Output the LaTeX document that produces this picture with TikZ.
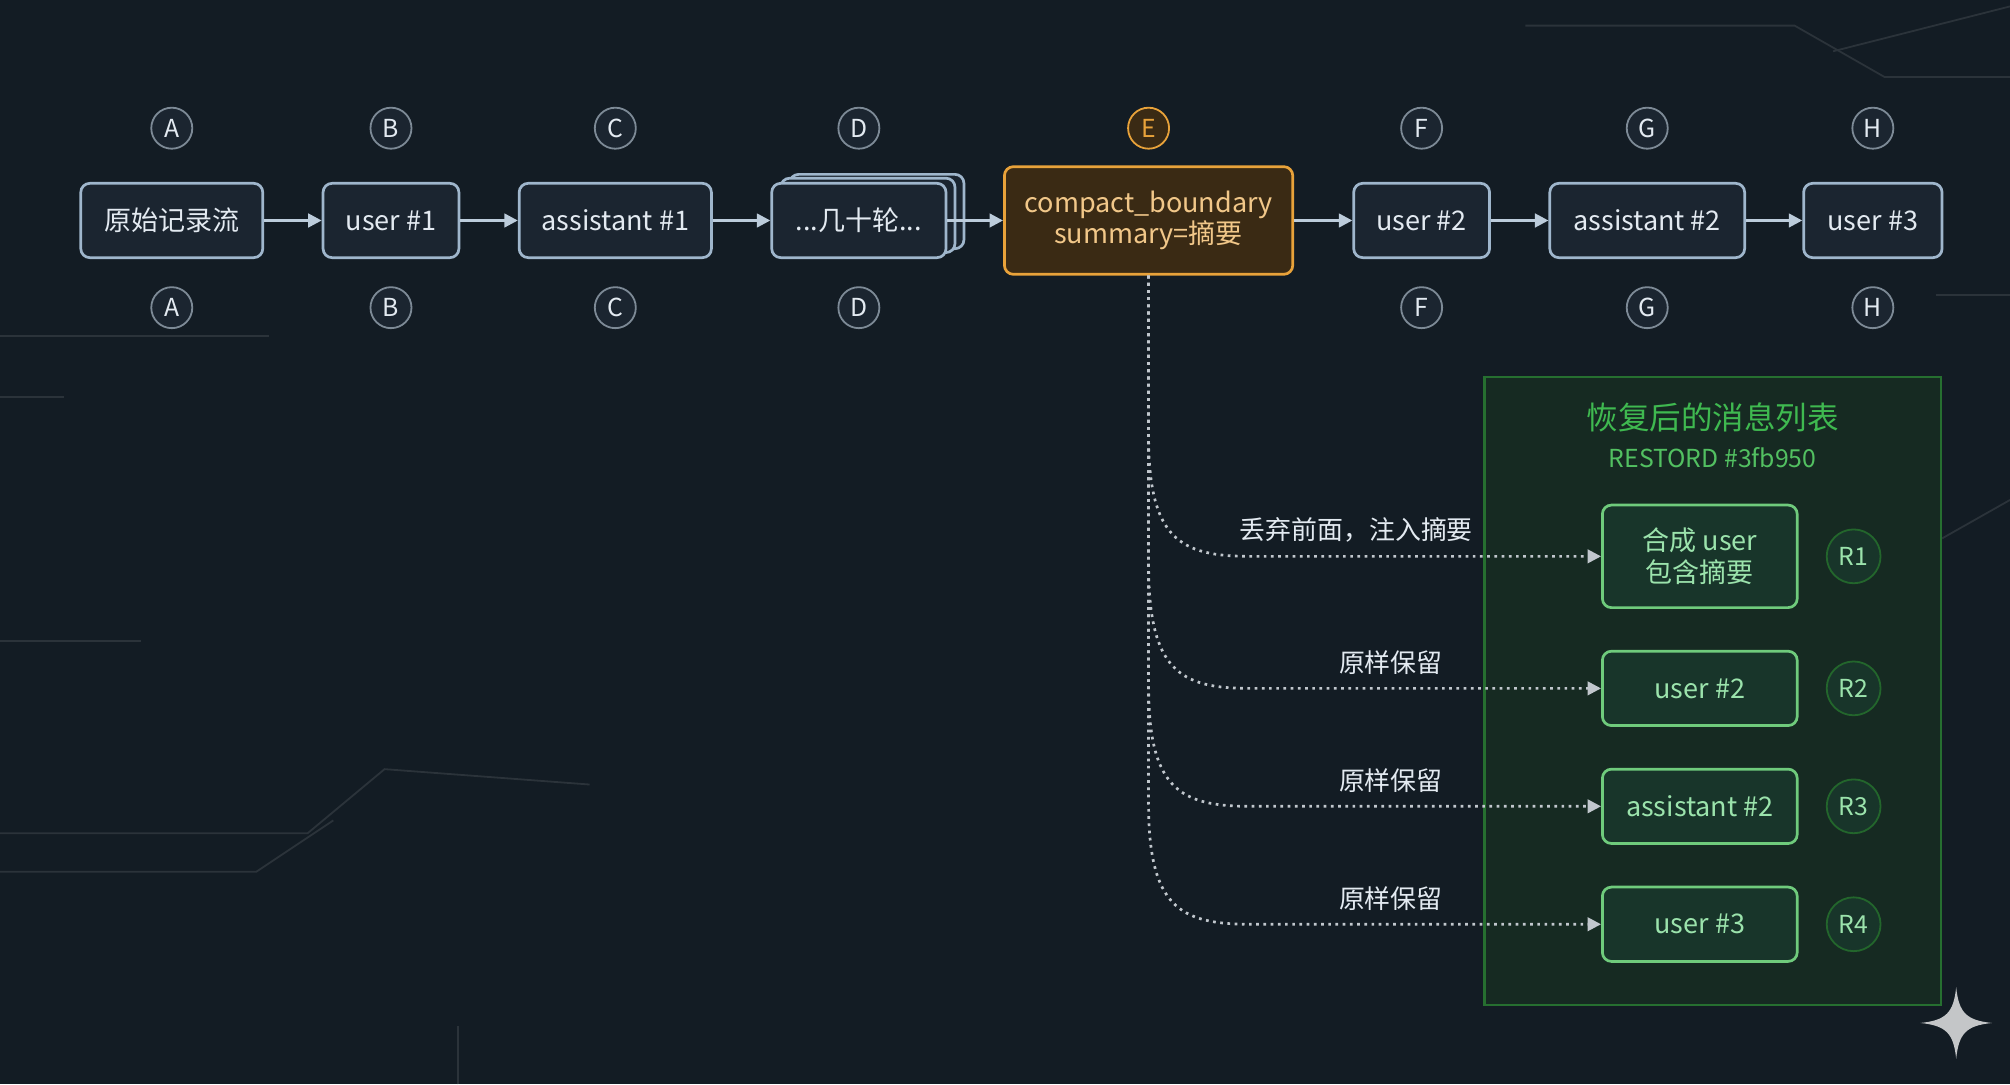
\documentclass[tikz,border=0pt]{standalone}
\usepackage{fontspec}
\setmainfont{Noto Sans CJK SC}
\usetikzlibrary{arrows.meta}
\definecolor{bg}{HTML}{131C24}
\definecolor{boxfill}{HTML}{1B2530}
\definecolor{boxline}{HTML}{9FB6CC}
\definecolor{txt}{HTML}{E3EAF1}
\definecolor{orange}{HTML}{E8A23A}
\definecolor{brown}{HTML}{3A2A14}
\definecolor{grn}{HTML}{3FB950}
\definecolor{grnfill}{HTML}{162A22}
\definecolor{grnbox}{HTML}{18352A}
\definecolor{grntxt}{HTML}{9BE3AC}
\definecolor{circ}{HTML}{7D8A96}
\tikzset{
  msg/.style={draw=boxline,line width=1.2pt,fill=boxfill,rounded corners=4pt,minimum height=1.16cm,text=txt,font=\fontsize{12}{14}\selectfont,align=center},
  lbl/.style={circle,draw=circ,line width=0.8pt,fill=boxfill,minimum size=0.64cm,inner sep=0pt,text=txt,font=\fontsize{11}{13}\selectfont},
  rmsg/.style={draw=grn!75!white,line width=1.2pt,fill=grnbox,rounded corners=4pt,minimum width=3.04cm,minimum height=1.16cm,text=grntxt,font=\fontsize{12}{14}\selectfont,align=center},
  rlbl/.style={circle,draw=grn!55!black,line width=0.8pt,fill=grnbox,minimum size=0.84cm,inner sep=0pt,text=grntxt,font=\fontsize{11}{13}\selectfont},
  flow/.style={-{Triangle[length=6pt,width=6pt]},line width=1.3pt,draw=boxline!70!white},
  dot/.style={-{Triangle[length=6pt,width=6pt]},line width=1.2pt,dotted,draw=txt!85!black},
  note/.style={text=txt,font=\fontsize{11.5}{13}\selectfont}
}
\begin{document}
\begin{tikzpicture}[x=0.02cm,y=-0.02cm]
\fill[bg] (0,0) rectangle (1568,846);
\useasboundingbox (0,0) rectangle (1568,846);
% faint circuit lines
\begin{scope}[draw=white!10!bg,line width=0.8pt]
\draw (0,650) -- (240,650) -- (300,600) -- (460,612);
\draw (0,680) -- (200,680) -- (260,640);
\draw (0,262) -- (210,262);
\draw (0,310) -- (50,310);
\draw (1190,20) -- (1400,20) -- (1470,60) -- (1568,60);
\draw (1430,40) -- (1568,5);
\draw (1510,230) -- (1568,230);
\draw (1515,420) -- (1568,390);
\draw (0,500) -- (110,500);
\draw (357,846) -- (357,800);
\end{scope}
% main flow
\node[msg,minimum width=2.84cm] (A) at (134,172) {原始记录流};
\node[msg,minimum width=2.12cm] (B) at (305,172) {user \#1};
\node[msg,minimum width=3.0cm] (C) at (480,172) {assistant \#1};
\node[msg,minimum width=2.72cm] at (684,165) {};
\node[msg,minimum width=2.72cm] at (677,168) {};
\node[msg,minimum width=2.72cm] (D) at (670,172) {...几十轮...};
\node[msg,draw=orange,fill=brown,text=orange!60!white,minimum width=4.5cm,minimum height=1.68cm] (E) at (896,172) {compact\_boundary\\summary=摘要};
\node[msg,minimum width=2.12cm] (F) at (1109,172) {user \#2};
\node[msg,minimum width=3.04cm] (G) at (1285,172) {assistant \#2};
\node[msg,minimum width=2.16cm] (H) at (1461,172) {user \#3};
\foreach \a/\b in {A/B,B/C,C/D,D/E,E/F,F/G,G/H} \draw[flow] (\a) -- (\b);
% letter circles
\foreach \n/\x in {A/134,B/305,C/480,D/670,F/1109,G/1285,H/1461}{
  \node[lbl] (t\n) at (\x,100) {\n};
  \node[lbl] (b\n) at (\x,240) {\n};
}
\node[lbl,draw=orange,fill=brown,text=orange] (tE) at (896,100) {E};
% restored panel
\node[draw=grn!60!black,fill=grnfill,line width=1pt,minimum width=7.12cm,minimum height=9.8cm,inner sep=0pt] (P) at (1336,539) {};
\node[text=grn,font=\fontsize{14}{16}\selectfont] (T1) at (1336,326) {恢复后的消息列表};
\node[text=grn!90!white,font=\fontsize{11}{13}\selectfont] (T2) at (1336,357) {RESTORD \#3fb950};
\node[rmsg,minimum height=1.6cm] (R1) at (1326,434) {合成 user\\包含摘要};
\node[rmsg] (R2) at (1326,537) {user \#2};
\node[rmsg] (R3) at (1326,629) {assistant \#2};
\node[rmsg] (R4) at (1326,721) {user \#3};
\node[rlbl] (L1) at (1446,434) {R1};
\node[rlbl] (L2) at (1446,537) {R2};
\node[rlbl] (L3) at (1446,629) {R3};
\node[rlbl] (L4) at (1446,721) {R4};
% dotted connectors
\draw[dot] (E.south) -- (896,340) .. controls (896,420) and (920,434) .. (975,434) -- (R1.west);
\draw[dot] (E.south) -- (896,440) .. controls (896,523) and (920,537) .. (975,537) -- (R2.west);
\draw[dot] (E.south) -- (896,535) .. controls (896,615) and (920,629) .. (975,629) -- (R3.west);
\draw[dot] (E.south) -- (896,627) .. controls (896,707) and (920,721) .. (975,721) -- (R4.west);
\node[note] at (1058,413) {丢弃前面，注入摘要};
\node[note] at (1085,517) {原样保留};
\node[note] at (1085,609) {原样保留};
\node[note] at (1085,701) {原样保留};
% sparkle
\fill[white!75!bg] (1526,770) .. controls (1528,790) and (1534,796) .. (1554,798) .. controls (1534,800) and (1528,806) .. (1526,826) .. controls (1524,806) and (1518,800) .. (1498,798) .. controls (1518,796) and (1524,790) .. (1526,770) -- cycle;
\end{tikzpicture}
\end{document}
